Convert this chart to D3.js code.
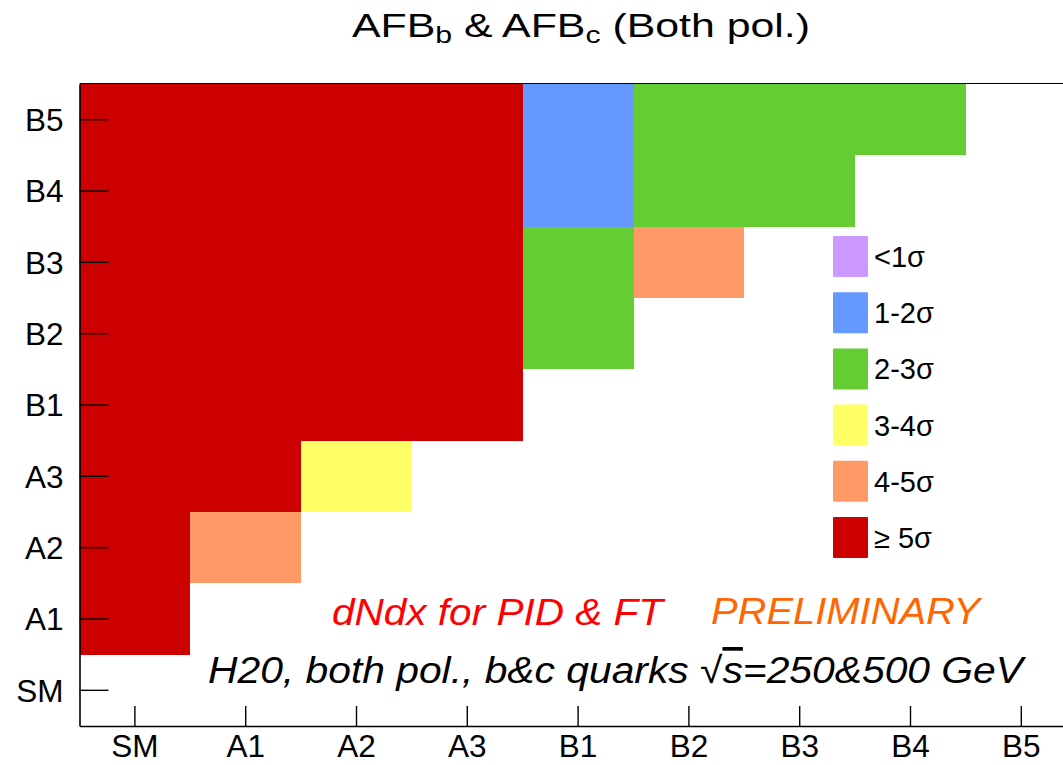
<!DOCTYPE html>
<html>
<head>
<meta charset="utf-8">
<script src="https://cdn.jsdelivr.net/npm/d3@7"></script>
<style>
  html, body { margin: 0; padding: 0; background: #fff; }
  svg { display: block; font-family: "Liberation Sans", Arial, Helvetica, sans-serif; }
</style>
</head>
<body>
<svg id="chart" width="1063" height="765"></svg>
<script>
// Benchmark models along each axis
const categories = ["SM", "A1", "A2", "A3", "B1", "B2", "B3", "B4", "B5"];

// Separation level for each pair (row model vs. column model):
// 0 = <1σ, 1 = 1-2σ, 2 = 2-3σ, 3 = 3-4σ, 4 = 4-5σ, 5 = ≥5σ
const rowModels = ["A1", "A2", "A3", "B1", "B2", "B3", "B4", "B5"];
const levelsA1 = [5];
const levelsA2 = [5, 4];
const levelsA3 = [5, 5, 3];
const levelsB1 = [5, 5, 5, 5];
const levelsB2 = [5, 5, 5, 5, 2];
const levelsB3 = [5, 5, 5, 5, 2, 4];
const levelsB4 = [5, 5, 5, 5, 1, 2, 2];
const levelsB5 = [5, 5, 5, 5, 1, 2, 2, 2];
const rowLevels = [levelsA1, levelsA2, levelsA3, levelsB1, levelsB2, levelsB3, levelsB4, levelsB5];

// Significance bins for the legend and their fill colours
const binLabels = ["<1σ", "1-2σ", "2-3σ", "3-4σ", "4-5σ", "≥ 5σ"];
const binColors = ["#CC99FF", "#6699FF", "#66CC33", "#FFFF66", "#FF9966", "#CC0000"];

const cells = [];
rowModels.forEach((rm, r) => {
  rowLevels[r].forEach((lvl, c) => {
    cells.push({ col: categories[c], row: rm, level: lvl });
  });
});

const svg = d3.select("#chart");
const frame = { left: 79.5, right: 1076.7, top: 84, bottom: 726 };

const x = d3.scaleBand().domain(categories).range([frame.left, frame.right]).padding(0);
const y = d3.scaleBand().domain(categories).range([frame.bottom, frame.top]).padding(0);
const color = d3.scaleOrdinal().domain(d3.range(binLabels.length)).range(binColors);

// top frame line
svg.append("line")
  .attr("x1", frame.left).attr("x2", frame.right)
  .attr("y1", frame.top - 0.5).attr("y2", frame.top - 0.5)
  .attr("stroke", "#000").attr("stroke-width", 1.2);

// heatmap cells
svg.append("g").selectAll("rect")
  .data(cells)
  .join("rect")
  .attr("x", d => x(d.col))
  .attr("y", d => y(d.row))
  .attr("width", x.bandwidth())
  .attr("height", y.bandwidth())
  .attr("fill", d => color(d.level))
  .attr("shape-rendering", "crispEdges");

// axes with inward ticks
const yAxis = d3.axisLeft(y).tickSizeInner(-29).tickSizeOuter(0).tickPadding(16);
const xAxis = d3.axisBottom(x).tickSizeInner(-20).tickSizeOuter(0).tickPadding(9);

const gy = svg.append("g").attr("transform", `translate(${frame.left},0)`).call(yAxis);
const gx = svg.append("g").attr("transform", `translate(0,${frame.bottom})`).call(xAxis);

[gx, gy].forEach(g => {
  g.select(".domain").attr("stroke", "#000").attr("stroke-width", 1.6);
  g.selectAll(".tick line").attr("stroke", "#000").attr("stroke-width", 1.4);
  g.selectAll(".tick text")
    .attr("font-family", "Liberation Sans, Arial, Helvetica, sans-serif")
    .attr("font-size", 31.5).attr("fill", "#000");
});
gy.selectAll(".tick text").attr("dy", "0.36em");

// title
const title = svg.append("text")
  .attr("x", 581).attr("y", 37)
  .attr("text-anchor", "middle")
  .attr("font-size", 34)
  .attr("textLength", 458).attr("lengthAdjust", "spacingAndGlyphs");
title.append("tspan").text("AFB");
title.append("tspan").attr("font-size", 24).attr("dy", 6).text("b");
title.append("tspan").attr("dy", -6).text(" & AFB");
title.append("tspan").attr("font-size", 24).attr("dy", 6).text("c");
title.append("tspan").attr("dy", -6).text(" (Both pol.)");

// annotations
svg.append("text")
  .attr("x", 332).attr("y", 625)
  .attr("font-size", 36).attr("font-style", "italic").attr("fill", "#FF0000")
  .attr("textLength", 331).attr("lengthAdjust", "spacingAndGlyphs")
  .text("dNdx for PID & FT");

svg.append("text")
  .attr("x", 711).attr("y", 624)
  .attr("font-size", 36).attr("font-style", "italic").attr("fill", "#FF6600")
  .attr("textLength", 269).attr("lengthAdjust", "spacingAndGlyphs")
  .text("PRELIMINARY");

const energy = svg.append("text")
  .attr("x", 208).attr("y", 683)
  .attr("font-size", 37).attr("font-style", "italic").attr("fill", "#000")
  .attr("textLength", 815).attr("lengthAdjust", "spacingAndGlyphs");
energy.append("tspan").text("H20, both pol., b&c quarks √");
energy.append("tspan").attr("text-decoration", "overline").text("s");
energy.append("tspan").text("=250&500 GeV");

// legend
const legend = svg.append("g").attr("transform", "translate(833,236)");
const item = legend.selectAll("g")
  .data(binLabels)
  .join("g")
  .attr("transform", (d, i) => `translate(0,${i * 56.2})`);
item.append("rect")
  .attr("width", 35).attr("height", 41).attr("rx", 1)
  .attr("fill", (d, i) => binColors[i]);
item.append("text")
  .attr("x", 41).attr("y", 31)
  .attr("font-size", 29).attr("fill", "#000")
  .text(d => d);
</script>
</body>
</html>
